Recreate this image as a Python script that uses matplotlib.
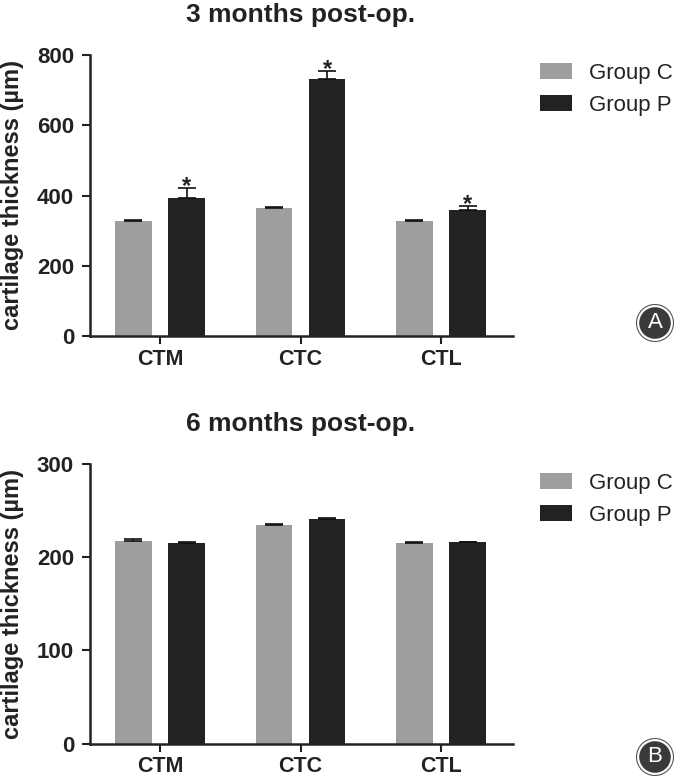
import numpy as np
import matplotlib
matplotlib.use('Agg')
import matplotlib.pyplot as plt
from matplotlib.patches import Circle

plt.rcParams['font.family'] = ['Liberation Sans', 'DejaVu Sans']

# dados
categorias = ['CTM', 'CTC', 'CTL']
grupos = ['Group C', 'Group P']

# 3 meses pós-op
c_3m = [326, 365, 326]
c_3m_err = [4, 3, 3]
p_3m = [393, 733, 360]
p_3m_err = [29, 22, 10]
sig_3m = [True, True, True]

# 6 meses pós-op
c_6m = [217, 234, 215]
c_6m_err = [2, 2, 1.5]
p_6m = [215, 241, 216]
p_6m_err = [1, 1.5, 0.8]
sig_6m = [False, False, False]

COR_C = '#9e9e9e'
COR_P = '#222222'
W_FIG, H_FIG = 678, 778


def fx(px):
    return px / W_FIG


def fy(px):
    return 1 - px / H_FIG


def painel(fig, topo, base, ymax, yticks, c, c_err, p, p_err, sig, titulo, letra, leg_top, badge_y):
    ax = fig.add_axes([fx(90), fy(base), fx(513) - fx(90), fy(topo) - fy(base)])
    x = np.arange(len(categorias))
    off, w = 0.19, 0.26
    ax.bar(x - off, c, w, color=COR_C, label=grupos[0], zorder=2)
    ax.bar(x + off, p, w, color=COR_P, label=grupos[1], zorder=2)
    for xs, v, e in [(x - off, c, c_err), (x + off, p, p_err)]:
        ax.errorbar(xs, v, yerr=[np.zeros(len(v)), e], fmt='none', ecolor='#111111',
                    elinewidth=1.2, capsize=6.5, capthick=1.2, zorder=3)
    for i, s in enumerate(sig):
        if s:
            ax.annotate('*', xy=(x[i] + off, p[i] + p_err[i]), xytext=(0, -3.5),
                        textcoords='offset points', ha='center', va='baseline',
                        fontsize=17, fontweight='bold', color='#222222')

    ax.set_xlim(-0.498, 2.512)
    ax.set_ylim(0, ymax)
    ax.set_yticks(yticks)
    ax.set_xticks(x)
    ax.set_xticklabels(categorias)
    for s in ['top', 'right']:
        ax.spines[s].set_visible(False)
    for s in ['left', 'bottom']:
        ax.spines[s].set_linewidth(1.8)
        ax.spines[s].set_color('#222222')
    ax.tick_params(axis='both', width=1.5, length=5.5, color='#222222',
                   labelcolor='#222222')
    ax.tick_params(axis='x', pad=3.5, labelsize=15.5)
    ax.tick_params(axis='y', pad=6, labelsize=16)
    for t in ax.get_xticklabels() + ax.get_yticklabels():
        t.set_fontweight('bold')

    fig.text(fx(301), fy(topo - 33), titulo, ha='center', va='baseline',
             fontsize=19, fontweight='bold', color='#222222')
    fig.text(fx(13), fy((topo + base) / 2), 'cartilage thickness (µm)', rotation=90,
             ha='center', va='center', fontsize=17, fontweight='bold', color='#222222')

    ax.legend(loc='upper left', bbox_to_anchor=(fx(540), fy(leg_top)), bbox_transform=fig.transFigure,
              frameon=False, borderpad=0, borderaxespad=0, handlelength=1.45, handleheight=0.72,
              handletextpad=0.75, labelspacing=0.5, fontsize=16, labelcolor='#222222')

    # selo A / B
    cx, cy = 655 / 100, (H_FIG - badge_y) / 100
    fig.add_artist(Circle((cx, cy), 0.185, transform=fig.dpi_scale_trans,
                          facecolor='white', edgecolor='#555555', lw=0.8))
    fig.add_artist(Circle((cx, cy), 0.158, transform=fig.dpi_scale_trans,
                          facecolor='#3a3a3a', edgecolor='none'))
    fig.text(fx(655), fy(badge_y), letra, ha='center', va='center', fontsize=16, color='white')
    return ax


fig = plt.figure(figsize=(W_FIG / 100, H_FIG / 100), dpi=100)
painel(fig, 55, 336, 800, [0, 200, 400, 600, 800], c_3m, c_3m_err, p_3m, p_3m_err, sig_3m,
       '3 months post-op.', 'A', 63, 323)
painel(fig, 464, 743.5, 300, [0, 100, 200, 300], c_6m, c_6m_err, p_6m, p_6m_err, sig_6m,
       '6 months post-op.', 'B', 473, 757)
fig.savefig('out.png', dpi=100)
